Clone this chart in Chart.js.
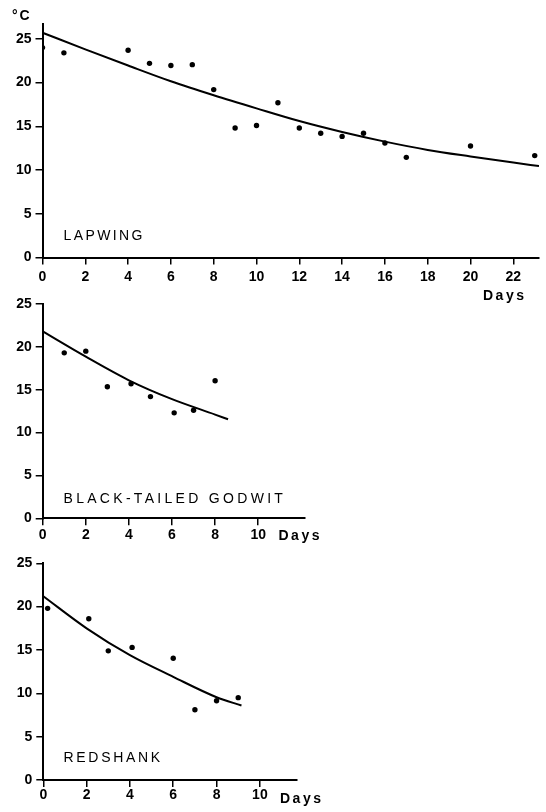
<!DOCTYPE html>
<html>
<head>
<meta charset="utf-8">
<script src="https://cdn.jsdelivr.net/npm/chart.js@4.4.1/dist/chart.umd.min.js"></script>
<style>
  body { margin: 0; background: #fff; width: 546px; height: 812px; position: relative; overflow: hidden; }
  canvas { position: absolute; left: 0; }
</style>
</head>
<body>
<canvas id="lapwingChart" width="546" height="305" style="top:0"></canvas>
<canvas id="godwitChart" width="546" height="255" style="top:290px"></canvas>
<canvas id="redshankChart" width="546" height="267" style="top:545px"></canvas>

<script>
// --- data ---
const yTicks = [0, 5, 10, 15, 20, 25];
const lapwingXTicks = [0, 2, 4, 6, 8, 10, 12, 14, 16, 18, 20, 22];
const shortXTicks = [0, 2, 4, 6, 8, 10];

const lapwingDays  = [0, 1, 4, 5, 6, 7, 8, 9, 10, 11, 12, 13, 14, 15, 16, 17, 20, 23];
const lapwingTemps = [24.0, 23.4, 23.7, 22.2, 21.95, 22.05, 19.2, 14.8, 15.1, 17.7, 14.8, 14.2, 13.85, 14.2, 13.1, 11.45, 12.75, 11.65];
const lapwingFitDays  = [0, 2, 4, 6, 8, 10, 12, 14, 16, 18, 20, 22, 23.2];
const lapwingFitTemps = [25.7, 23.8, 21.95, 20.15, 18.55, 17.05, 15.6, 14.35, 13.25, 12.3, 11.55, 10.85, 10.45];

const godwitDays  = [1, 2, 3, 4.1, 5, 6.1, 7, 8];
const godwitTemps = [19.3, 19.5, 15.35, 15.7, 14.2, 12.3, 12.6, 16.05];
const godwitFitDays  = [0, 2, 4, 6, 8, 8.6];
const godwitFitTemps = [21.8, 18.85, 16.1, 13.9, 12.1, 11.55];

const redshankDays  = [0.2, 2.1, 3, 4.1, 6, 7, 8, 9];
const redshankTemps = [19.8, 18.6, 14.9, 15.3, 14.05, 8.1, 9.15, 9.5];
const redshankFitDays  = [0, 2, 4, 6, 8, 9.15];
const redshankFitTemps = [21.2, 17.5, 14.4, 11.9, 9.55, 8.6];

const FONT = "'Liberation Sans', Arial, sans-serif";

// free text drawn on top of each panel (species name, axis words)
const panelText = {
  id: 'panelText',
  afterDraw(chart, args, opts) {
    const ctx = chart.ctx;
    ctx.save();
    ctx.fillStyle = '#000';
    ctx.textBaseline = 'alphabetic';
    ctx.textAlign = 'left';
    (opts.items || []).forEach(t => {
      ctx.font = t.font;
      ctx.letterSpacing = t.spacing + 'px';
      ctx.fillText(t.text, t.x, t.y);
    });
    ctx.restore();
  }
};

function toPoints(xs, ys) {
  return xs.map((x, i) => ({ x: x, y: ys[i] }));
}

function axis(tickValues, max, tickPad, fit) {
  return {
    type: 'linear',
    min: 0,
    max: max,
    afterBuildTicks: s => { s.ticks = tickValues.map(v => ({ value: v })); },
    afterFit: fit,
    grid: { drawOnChartArea: false, drawTicks: true, tickLength: 7, color: '#000', lineWidth: 1.5 },
    border: { display: true, color: '#000', width: 2 },
    ticks: {
      color: '#000',
      padding: tickPad,
      autoSkip: false,
      maxRotation: 0,
      font: { family: FONT, size: 14, weight: 'bold' }
    }
  };
}

function makePanel(id, cfg) {
  const canvas = document.getElementById(id);
  const H = canvas.height;
  return new Chart(canvas, {
    type: 'scatter',
    data: {
      datasets: [
        {
          data: toPoints(cfg.days, cfg.temps),
          pointRadius: 2.7,
          pointBackgroundColor: '#000',
          pointBorderWidth: 0,
          showLine: false
        },
        {
          data: toPoints(cfg.fitDays, cfg.fitTemps),
          showLine: true,
          pointRadius: 0,
          borderColor: '#000',
          borderWidth: 2,
          cubicInterpolationMode: 'monotone'
        }
      ]
    },
    options: {
      responsive: false,
      animation: false,
      devicePixelRatio: 1,
      layout: { padding: { top: cfg.top, right: 546 - cfg.right, left: 0, bottom: 0 } },
      plugins: {
        legend: { display: false },
        tooltip: { enabled: false },
        panelText: { items: cfg.texts }
      },
      scales: {
        x: axis(cfg.xTicks, cfg.xMax, cfg.xPad, s => { s.height = H - cfg.bottom; }),
        y: axis(yTicks, cfg.yMax, 4, s => { s.width = cfg.left; })
      }
    },
    plugins: [panelText]
  });
}

makePanel('lapwingChart', {
  days: lapwingDays, temps: lapwingTemps,
  fitDays: lapwingFitDays, fitTemps: lapwingFitTemps,
  xTicks: lapwingXTicks, xMax: 23.2, yMax: 26.7, xPad: 4,
  left: 42.5, right: 539, top: 24, bottom: 257.5,
  texts: [
    { text: '°C', x: 12, y: 20, font: 'bold 14px ' + FONT, spacing: 2 },
    { text: 'LAPWING', x: 63.5, y: 240, font: '14px ' + FONT, spacing: 2.4 },
    { text: 'Days', x: 483, y: 300, font: 'bold 14px ' + FONT, spacing: 2.5 }
  ]
});

makePanel('godwitChart', {
  days: godwitDays, temps: godwitTemps,
  fitDays: godwitFitDays, fitTemps: godwitFitTemps,
  xTicks: shortXTicks, xMax: 12.17, yMax: 25, xPad: 1,
  left: 42.7, right: 305, top: 14, bottom: 228.3,
  texts: [
    { text: 'BLACK-TAILED GODWIT', x: 63.5, y: 213.3, font: '14px ' + FONT, spacing: 3.3 },
    { text: 'Days', x: 278.5, y: 250, font: 'bold 14px ' + FONT, spacing: 2.5 }
  ]
});

makePanel('redshankChart', {
  days: redshankDays, temps: redshankTemps,
  fitDays: redshankFitDays, fitTemps: redshankFitTemps,
  xTicks: shortXTicks, xMax: 11.7, yMax: 25, xPad: 0,
  left: 43.3, right: 296.7, top: 18.3, bottom: 235,
  texts: [
    { text: 'REDSHANK', x: 63.5, y: 216.7, font: '14px ' + FONT, spacing: 2.7 },
    { text: 'Days', x: 280, y: 257.5, font: 'bold 14px ' + FONT, spacing: 2.5 }
  ]
});
</script>
</body>
</html>
